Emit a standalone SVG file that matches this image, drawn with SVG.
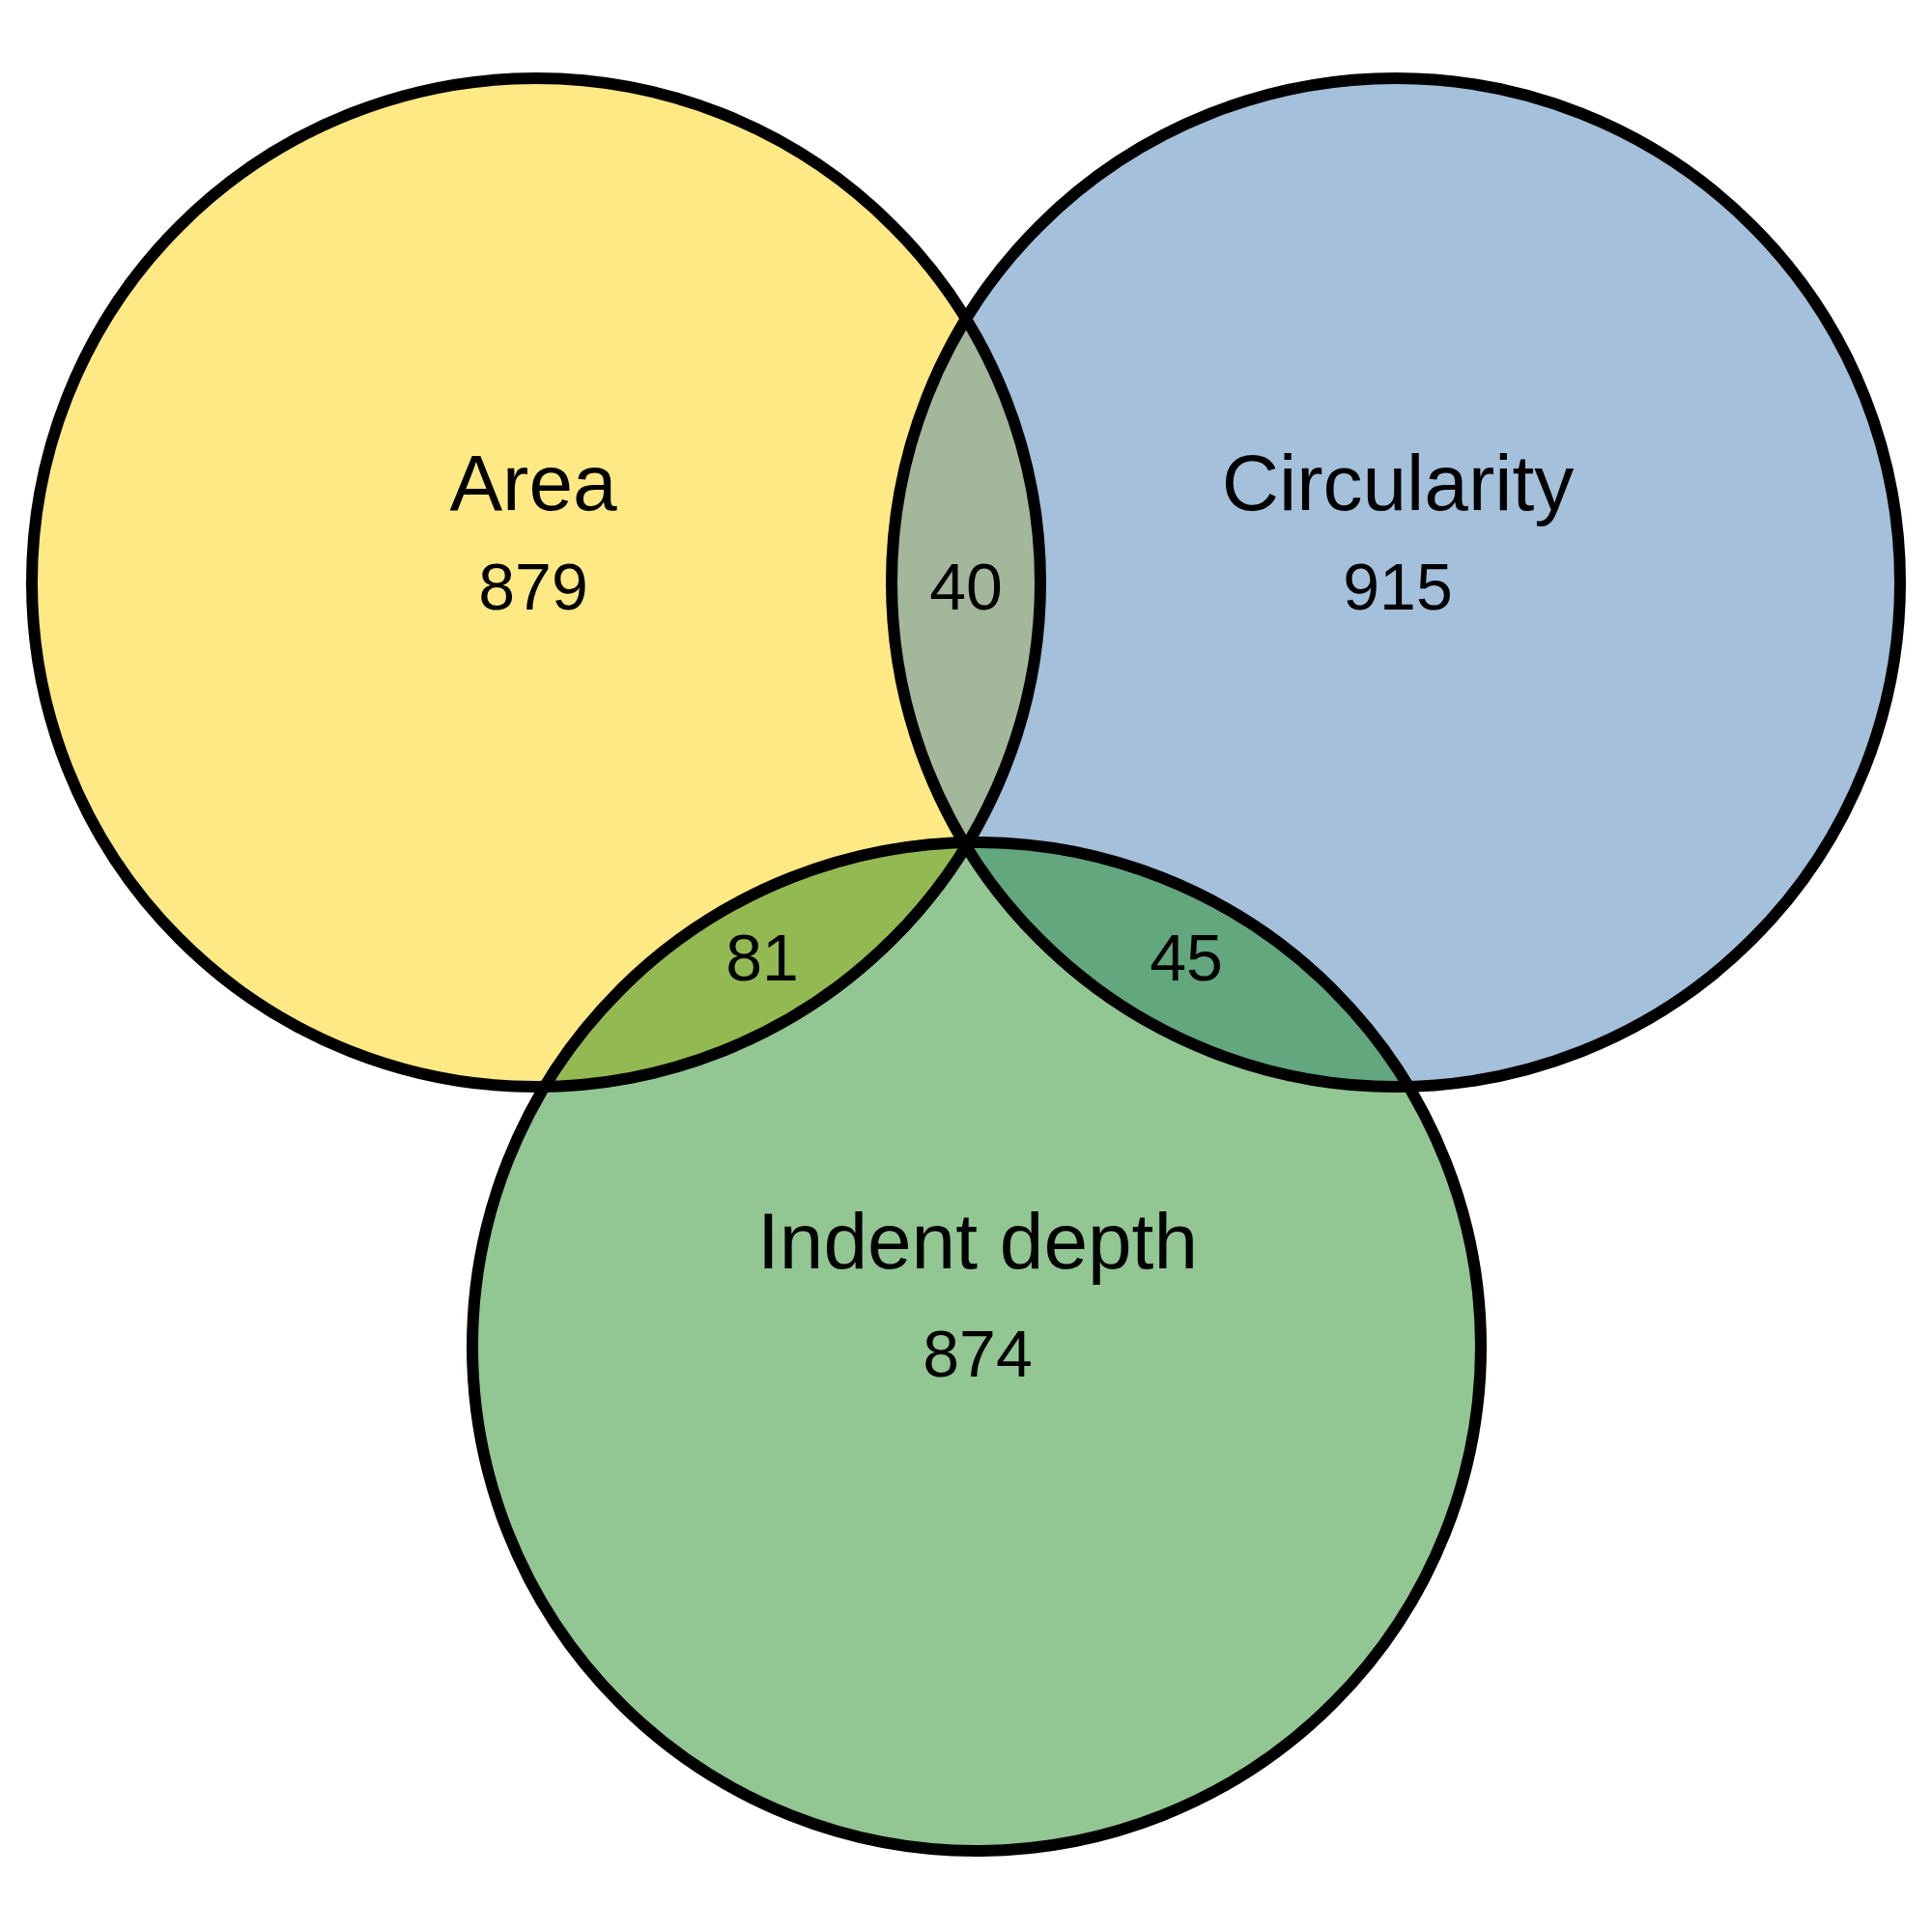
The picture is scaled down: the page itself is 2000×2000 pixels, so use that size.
<svg xmlns="http://www.w3.org/2000/svg" width="2000" height="2000" viewBox="0 0 2000 2000">
<style>
.ring{fill:none;stroke:#000;stroke-width:12}
.lbl{font-family:"Liberation Sans",Arial,sans-serif;font-size:82px;fill:#000;text-anchor:middle}
.num{font-family:"Liberation Sans",Arial,sans-serif;font-size:68px;fill:#000;text-anchor:middle}
</style>
<defs>
<clipPath id="cA"><circle cx="555" cy="603" r="522"/></clipPath>
<clipPath id="cC"><circle cx="1445" cy="603" r="522"/></clipPath>
</defs>
<rect width="2000" height="2000" fill="#fff"/>
<g id="fills">
<circle cx="555" cy="603" r="522" fill="#FFE985"/>
<circle cx="1445" cy="603" r="522" fill="#A4C0DB"/>
<circle cx="1011" cy="1394" r="522" fill="#92C692"/>
<circle cx="1445" cy="603" r="522" fill="#A3B79B" clip-path="url(#cA)"/>
<circle cx="1011" cy="1394" r="522" fill="#93BA52" clip-path="url(#cA)"/>
<circle cx="1011" cy="1394" r="522" fill="#62A77D" clip-path="url(#cC)"/>
</g>
<g id="area">
<circle class="ring" cx="555" cy="603" r="522"/>
<text class="lbl" x="552" y="528">Area</text>
<text class="num" x="552" y="631">879</text>
</g>
<g id="circularity">
<circle class="ring" cx="1445" cy="603" r="522"/>
<text class="lbl" x="1447" y="528">Circularity</text>
<text class="num" x="1447" y="631">915</text>
</g>
<g id="indent-depth">
<circle class="ring" cx="1011" cy="1394" r="522"/>
<text class="lbl" x="1012" y="1313">Indent depth</text>
<text class="num" x="1012" y="1425">874</text>
</g>
<g id="overlaps">
<text class="num" x="1000" y="631">40</text>
<text class="num" x="789" y="1015">81</text>
<text class="num" x="1228" y="1015">45</text>
</g>
<g id="connectors"/>
</svg>
